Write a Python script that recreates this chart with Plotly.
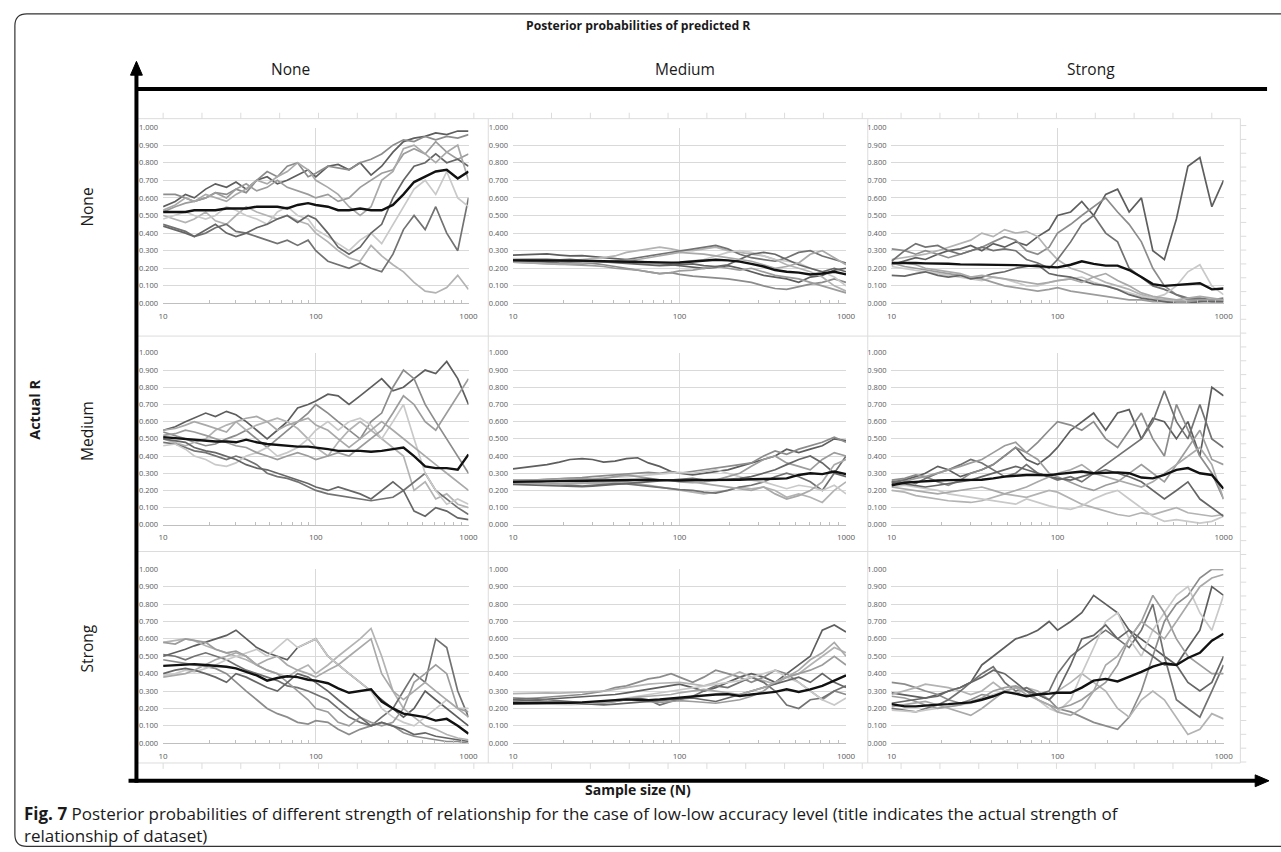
import plotly.graph_objects as go

W, H = 1281, 852

# ---------------- data ----------------
N = [10, 12, 14, 16, 19, 22, 26, 30, 35, 41, 48, 56, 65, 76, 89, 100, 120, 140, 165, 195,
     230, 270, 320, 375, 440, 520, 610, 720, 850, 1000]

row_labels = ["None", "Medium", "Strong"]
col_labels = ["None", "Medium", "Strong"]
x_tick_vals = [10, 100, 1000]
x_minor_vals = [20, 30, 40, 50, 60, 70, 80, 90, 200, 300, 400, 500, 600, 700, 800, 900]
y_tick_vals = [0.0, 0.1, 0.2, 0.3, 0.4, 0.5, 0.6, 0.7, 0.8, 0.9, 1.0]

# Actual R = None
none_none_mean = [0.52, 0.52, 0.52, 0.53, 0.53, 0.53, 0.54, 0.54, 0.54, 0.55,
                  0.55, 0.55, 0.54, 0.56, 0.57, 0.56, 0.55, 0.53, 0.53, 0.54,
                  0.53, 0.53, 0.56, 0.62, 0.69, 0.72, 0.75, 0.76, 0.71, 0.75]
none_none_runs = [
    [0.55, 0.58, 0.62, 0.60, 0.65, 0.68, 0.66, 0.69, 0.65, 0.70, 0.72, 0.68, 0.70, 0.73, 0.76,
     0.72, 0.78, 0.79, 0.76, 0.80, 0.73, 0.78, 0.86, 0.92, 0.94, 0.95, 0.97, 0.96, 0.98, 0.98],
    [0.62, 0.62, 0.60, 0.58, 0.60, 0.63, 0.62, 0.65, 0.63, 0.70, 0.75, 0.72, 0.78, 0.80, 0.72,
     0.74, 0.78, 0.77, 0.76, 0.80, 0.82, 0.85, 0.90, 0.93, 0.92, 0.95, 0.93, 0.95, 0.94, 0.96],
    [0.50, 0.48, 0.46, 0.48, 0.52, 0.47, 0.45, 0.50, 0.55, 0.52, 0.50, 0.48, 0.50, 0.47, 0.45,
     0.40, 0.35, 0.30, 0.26, 0.24, 0.33, 0.27, 0.22, 0.18, 0.12, 0.07, 0.06, 0.09, 0.16, 0.08],
    [0.45, 0.43, 0.41, 0.38, 0.40, 0.43, 0.45, 0.41, 0.40, 0.38, 0.36, 0.34, 0.36, 0.33, 0.36,
     0.30, 0.24, 0.22, 0.20, 0.23, 0.20, 0.18, 0.28, 0.42, 0.50, 0.42, 0.55, 0.40, 0.30, 0.60],
    [0.48, 0.50, 0.52, 0.50, 0.48, 0.50, 0.55, 0.53, 0.50, 0.48, 0.45, 0.52, 0.55, 0.50, 0.48,
     0.42, 0.38, 0.34, 0.30, 0.36, 0.40, 0.34, 0.45, 0.55, 0.65, 0.70, 0.62, 0.75, 0.60, 0.55],
    [0.52, 0.55, 0.57, 0.58, 0.60, 0.63, 0.60, 0.65, 0.68, 0.64, 0.66, 0.70, 0.66, 0.64, 0.62,
     0.60, 0.62, 0.58, 0.60, 0.66, 0.70, 0.74, 0.76, 0.85, 0.88, 0.85, 0.92, 0.86, 0.82, 0.85],
    [0.44, 0.42, 0.40, 0.38, 0.42, 0.45, 0.40, 0.38, 0.40, 0.43, 0.45, 0.48, 0.50, 0.46, 0.50,
     0.48, 0.40, 0.32, 0.28, 0.32, 0.40, 0.45, 0.60, 0.70, 0.78, 0.80, 0.85, 0.80, 0.82, 0.78],
    [0.53, 0.56, 0.60, 0.58, 0.62, 0.60, 0.58, 0.62, 0.65, 0.70, 0.68, 0.72, 0.75, 0.80, 0.76,
     0.70, 0.66, 0.62, 0.55, 0.50, 0.55, 0.70, 0.75, 0.88, 0.90, 0.85, 0.80, 0.86, 0.90, 0.70],
]

none_medium_mean = [0.245, 0.245, 0.245, 0.245, 0.245, 0.244, 0.243, 0.242, 0.240, 0.238,
                    0.237, 0.236, 0.234, 0.232, 0.232, 0.233, 0.238, 0.242, 0.248, 0.245,
                    0.238, 0.225, 0.210, 0.190, 0.180, 0.175, 0.165, 0.170, 0.180, 0.165]
none_medium_runs = [
    [0.275, 0.278, 0.280, 0.282, 0.275, 0.270, 0.272, 0.268, 0.260, 0.255, 0.250, 0.240, 0.235, 0.225, 0.220,
     0.215, 0.210, 0.200, 0.205, 0.215, 0.200, 0.180, 0.160, 0.150, 0.140, 0.120, 0.150, 0.160, 0.190, 0.200],
    [0.250, 0.248, 0.245, 0.240, 0.238, 0.235, 0.230, 0.228, 0.220, 0.210, 0.200, 0.190, 0.180, 0.170, 0.175,
     0.165, 0.155, 0.150, 0.145, 0.140, 0.130, 0.120, 0.100, 0.085, 0.080, 0.095, 0.110, 0.120, 0.140, 0.120],
    [0.240, 0.238, 0.235, 0.238, 0.240, 0.245, 0.250, 0.255, 0.260, 0.270, 0.290, 0.300, 0.310, 0.320, 0.310,
     0.300, 0.300, 0.310, 0.320, 0.300, 0.290, 0.280, 0.270, 0.250, 0.220, 0.200, 0.180, 0.150, 0.100, 0.070],
    [0.245, 0.242, 0.240, 0.235, 0.230, 0.228, 0.225, 0.230, 0.235, 0.240, 0.250, 0.260, 0.270, 0.280, 0.290,
     0.300, 0.310, 0.320, 0.330, 0.310, 0.280, 0.260, 0.250, 0.240, 0.260, 0.290, 0.300, 0.270, 0.250, 0.230],
    [0.255, 0.255, 0.252, 0.250, 0.248, 0.245, 0.242, 0.240, 0.238, 0.235, 0.232, 0.230, 0.228, 0.225, 0.230,
     0.235, 0.240, 0.250, 0.270, 0.290, 0.300, 0.290, 0.270, 0.250, 0.240, 0.230, 0.200, 0.180, 0.150, 0.100],
    [0.235, 0.232, 0.230, 0.228, 0.225, 0.220, 0.218, 0.215, 0.210, 0.200, 0.195, 0.190, 0.180, 0.170, 0.175,
     0.185, 0.190, 0.200, 0.210, 0.200, 0.190, 0.200, 0.180, 0.160, 0.150, 0.140, 0.120, 0.100, 0.080, 0.060],
    [0.248, 0.250, 0.252, 0.250, 0.248, 0.250, 0.245, 0.240, 0.238, 0.232, 0.228, 0.225, 0.220, 0.215, 0.218,
     0.220, 0.225, 0.215, 0.210, 0.220, 0.250, 0.280, 0.290, 0.280, 0.250, 0.220, 0.200, 0.180, 0.200, 0.180],
    [0.235, 0.232, 0.228, 0.225, 0.222, 0.225, 0.228, 0.232, 0.235, 0.240, 0.245, 0.250, 0.260, 0.270, 0.280,
     0.290, 0.285, 0.280, 0.270, 0.260, 0.250, 0.240, 0.220, 0.200, 0.210, 0.230, 0.280, 0.300, 0.260, 0.220],
]

none_strong_mean = [0.230, 0.232, 0.230, 0.228, 0.228, 0.226, 0.222, 0.222, 0.220, 0.220,
                    0.220, 0.218, 0.215, 0.210, 0.205, 0.205, 0.220, 0.240, 0.225, 0.215,
                    0.215, 0.190, 0.150, 0.110, 0.100, 0.105, 0.110, 0.115, 0.080, 0.085]
none_strong_runs = [
    [0.220, 0.240, 0.260, 0.250, 0.280, 0.300, 0.310, 0.330, 0.300, 0.340, 0.320, 0.350, 0.330, 0.380, 0.420,
     0.500, 0.520, 0.580, 0.500, 0.620, 0.650, 0.520, 0.600, 0.300, 0.250, 0.480, 0.780, 0.830, 0.550, 0.700],
    [0.310, 0.300, 0.280, 0.300, 0.280, 0.260, 0.280, 0.300, 0.320, 0.350, 0.380, 0.360, 0.300, 0.280, 0.320,
     0.400, 0.450, 0.500, 0.550, 0.600, 0.520, 0.450, 0.350, 0.200, 0.100, 0.050, 0.020, 0.020, 0.010, 0.010],
    [0.250, 0.260, 0.270, 0.280, 0.300, 0.320, 0.340, 0.360, 0.400, 0.380, 0.420, 0.400, 0.410, 0.380, 0.300,
     0.250, 0.200, 0.180, 0.150, 0.120, 0.100, 0.080, 0.050, 0.030, 0.020, 0.020, 0.010, 0.010, 0.020, 0.020],
    [0.240, 0.300, 0.340, 0.320, 0.330, 0.300, 0.280, 0.300, 0.320, 0.300, 0.310, 0.300, 0.250, 0.230, 0.200,
     0.250, 0.350, 0.450, 0.500, 0.400, 0.350, 0.200, 0.150, 0.100, 0.080, 0.050, 0.030, 0.030, 0.020, 0.030],
    [0.210, 0.200, 0.190, 0.180, 0.170, 0.160, 0.150, 0.140, 0.130, 0.150, 0.140, 0.120, 0.100, 0.100, 0.120,
     0.130, 0.140, 0.150, 0.120, 0.100, 0.080, 0.060, 0.040, 0.030, 0.050, 0.100, 0.180, 0.220, 0.100, 0.050],
    [0.230, 0.210, 0.200, 0.190, 0.180, 0.170, 0.160, 0.150, 0.140, 0.120, 0.100, 0.090, 0.080, 0.070, 0.080,
     0.090, 0.070, 0.060, 0.050, 0.040, 0.030, 0.020, 0.020, 0.010, 0.010, 0.010, 0.010, 0.020, 0.020, 0.020],
    [0.160, 0.155, 0.170, 0.180, 0.160, 0.150, 0.160, 0.140, 0.150, 0.170, 0.180, 0.200, 0.210, 0.220, 0.170,
     0.160, 0.150, 0.130, 0.110, 0.100, 0.080, 0.050, 0.030, 0.020, 0.010, 0.000, 0.000, 0.010, 0.010, 0.010],
    [0.220, 0.230, 0.220, 0.200, 0.190, 0.180, 0.170, 0.150, 0.160, 0.150, 0.140, 0.130, 0.120, 0.110, 0.120,
     0.130, 0.140, 0.120, 0.150, 0.170, 0.130, 0.100, 0.060, 0.040, 0.030, 0.020, 0.030, 0.040, 0.030, 0.020],
]

# Actual R = Medium
medium_none_mean = [0.510, 0.505, 0.500, 0.495, 0.490, 0.485, 0.485, 0.480, 0.495, 0.480,
                    0.470, 0.465, 0.460, 0.455, 0.455, 0.450, 0.440, 0.430, 0.430, 0.430,
                    0.425, 0.430, 0.440, 0.450, 0.400, 0.340, 0.330, 0.330, 0.320, 0.410]
medium_none_runs = [
    [0.550, 0.570, 0.600, 0.620, 0.650, 0.630, 0.660, 0.640, 0.600, 0.550, 0.500, 0.550, 0.600, 0.680, 0.700,
     0.720, 0.760, 0.750, 0.700, 0.750, 0.800, 0.850, 0.780, 0.800, 0.850, 0.900, 0.880, 0.950, 0.850, 0.700],
    [0.540, 0.520, 0.500, 0.480, 0.460, 0.470, 0.500, 0.520, 0.550, 0.500, 0.450, 0.500, 0.550, 0.600, 0.650,
     0.700, 0.650, 0.600, 0.550, 0.500, 0.600, 0.650, 0.800, 0.900, 0.850, 0.700, 0.600, 0.500, 0.400, 0.300],
    [0.500, 0.480, 0.460, 0.480, 0.500, 0.550, 0.580, 0.600, 0.550, 0.580, 0.600, 0.620, 0.600, 0.560, 0.500,
     0.450, 0.400, 0.480, 0.550, 0.600, 0.550, 0.500, 0.450, 0.400, 0.200, 0.250, 0.150, 0.180, 0.120, 0.100],
    [0.480, 0.470, 0.450, 0.430, 0.420, 0.400, 0.380, 0.400, 0.380, 0.350, 0.300, 0.280, 0.270, 0.250, 0.220,
     0.200, 0.180, 0.170, 0.160, 0.150, 0.140, 0.150, 0.160, 0.200, 0.250, 0.300, 0.200, 0.150, 0.100, 0.060],
    [0.460, 0.470, 0.440, 0.400, 0.380, 0.350, 0.340, 0.360, 0.400, 0.420, 0.450, 0.400, 0.420, 0.450, 0.500,
     0.550, 0.600, 0.550, 0.600, 0.620, 0.580, 0.500, 0.600, 0.700, 0.500, 0.300, 0.200, 0.120, 0.150, 0.120],
    [0.520, 0.530, 0.550, 0.540, 0.520, 0.500, 0.480, 0.460, 0.450, 0.420, 0.400, 0.380, 0.400, 0.420, 0.400,
     0.380, 0.400, 0.420, 0.400, 0.450, 0.500, 0.550, 0.650, 0.750, 0.700, 0.600, 0.550, 0.650, 0.750, 0.850],
    [0.500, 0.490, 0.480, 0.450, 0.430, 0.420, 0.400, 0.380, 0.350, 0.330, 0.320, 0.300, 0.280, 0.260, 0.240,
     0.220, 0.200, 0.220, 0.200, 0.180, 0.150, 0.200, 0.250, 0.200, 0.080, 0.050, 0.100, 0.080, 0.040, 0.030],
    [0.550, 0.560, 0.580, 0.600, 0.580, 0.560, 0.540, 0.600, 0.620, 0.630, 0.600, 0.550, 0.580, 0.600, 0.620,
     0.580, 0.550, 0.500, 0.450, 0.500, 0.550, 0.600, 0.550, 0.500, 0.450, 0.400, 0.350, 0.300, 0.250, 0.200],
]

medium_medium_mean = [0.250, 0.250, 0.252, 0.253, 0.254, 0.255, 0.256, 0.258, 0.260, 0.262,
                      0.262, 0.263, 0.262, 0.260, 0.258, 0.258, 0.260, 0.260, 0.262, 0.258,
                      0.262, 0.265, 0.265, 0.268, 0.270, 0.290, 0.300, 0.295, 0.310, 0.295]
medium_medium_runs = [
    [0.325, 0.335, 0.345, 0.350, 0.365, 0.380, 0.385, 0.380, 0.365, 0.370, 0.385, 0.390, 0.360, 0.340, 0.310,
     0.300, 0.290, 0.300, 0.310, 0.320, 0.340, 0.360, 0.380, 0.400, 0.440, 0.420, 0.440, 0.460, 0.500, 0.490],
    [0.260, 0.260, 0.262, 0.265, 0.268, 0.270, 0.275, 0.280, 0.285, 0.290, 0.295, 0.300, 0.305, 0.300, 0.310,
     0.300, 0.310, 0.320, 0.330, 0.340, 0.350, 0.360, 0.400, 0.430, 0.410, 0.440, 0.460, 0.480, 0.510, 0.480],
    [0.250, 0.248, 0.245, 0.240, 0.238, 0.240, 0.242, 0.240, 0.238, 0.245, 0.250, 0.240, 0.230, 0.220, 0.210,
     0.200, 0.190, 0.180, 0.190, 0.200, 0.220, 0.210, 0.220, 0.200, 0.160, 0.180, 0.160, 0.130, 0.200, 0.250],
    [0.240, 0.242, 0.240, 0.238, 0.232, 0.228, 0.225, 0.230, 0.235, 0.240, 0.238, 0.232, 0.225, 0.218, 0.210,
     0.205, 0.200, 0.190, 0.185, 0.200, 0.220, 0.230, 0.250, 0.280, 0.300, 0.280, 0.250, 0.200, 0.300, 0.400],
    [0.245, 0.250, 0.255, 0.258, 0.260, 0.262, 0.265, 0.268, 0.272, 0.275, 0.280, 0.285, 0.290, 0.295, 0.300,
     0.305, 0.300, 0.310, 0.320, 0.300, 0.280, 0.260, 0.250, 0.230, 0.210, 0.230, 0.220, 0.200, 0.230, 0.180],
    [0.255, 0.258, 0.262, 0.265, 0.268, 0.270, 0.268, 0.265, 0.270, 0.280, 0.290, 0.280, 0.270, 0.262, 0.258,
     0.250, 0.245, 0.250, 0.260, 0.280, 0.300, 0.340, 0.380, 0.400, 0.360, 0.340, 0.320, 0.380, 0.420, 0.400],
    [0.235, 0.232, 0.230, 0.228, 0.225, 0.222, 0.222, 0.225, 0.230, 0.235, 0.240, 0.245, 0.250, 0.255, 0.260,
     0.265, 0.270, 0.262, 0.258, 0.265, 0.270, 0.280, 0.300, 0.320, 0.350, 0.380, 0.400, 0.360, 0.300, 0.280],
    [0.245, 0.242, 0.240, 0.238, 0.235, 0.238, 0.240, 0.245, 0.248, 0.250, 0.255, 0.260, 0.262, 0.262, 0.258,
     0.255, 0.250, 0.240, 0.230, 0.220, 0.210, 0.200, 0.220, 0.180, 0.150, 0.170, 0.200, 0.250, 0.350, 0.380],
]

medium_strong_mean = [0.230, 0.245, 0.250, 0.255, 0.258, 0.260, 0.262, 0.262, 0.262, 0.270,
                      0.280, 0.285, 0.290, 0.290, 0.288, 0.295, 0.305, 0.310, 0.300, 0.302,
                      0.305, 0.300, 0.275, 0.270, 0.290, 0.320, 0.330, 0.300, 0.290, 0.210]
medium_strong_runs = [
    [0.240, 0.260, 0.280, 0.300, 0.340, 0.320, 0.280, 0.300, 0.320, 0.350, 0.400, 0.450, 0.380, 0.350, 0.400,
     0.450, 0.550, 0.600, 0.650, 0.550, 0.650, 0.670, 0.500, 0.620, 0.600, 0.500, 0.600, 0.400, 0.800, 0.750],
    [0.260, 0.270, 0.290, 0.280, 0.250, 0.230, 0.260, 0.300, 0.320, 0.350, 0.400, 0.450, 0.420, 0.480, 0.550,
     0.600, 0.580, 0.550, 0.600, 0.500, 0.450, 0.550, 0.650, 0.500, 0.400, 0.700, 0.550, 0.400, 0.300, 0.150],
    [0.200, 0.190, 0.170, 0.160, 0.150, 0.140, 0.135, 0.130, 0.140, 0.160, 0.180, 0.170, 0.160, 0.180, 0.200,
     0.190, 0.150, 0.120, 0.100, 0.080, 0.060, 0.050, 0.070, 0.060, 0.080, 0.100, 0.070, 0.060, 0.050, 0.060],
    [0.250, 0.260, 0.240, 0.270, 0.300, 0.320, 0.350, 0.380, 0.360, 0.320, 0.280, 0.300, 0.350, 0.300, 0.280,
     0.260, 0.280, 0.250, 0.300, 0.350, 0.400, 0.450, 0.500, 0.600, 0.780, 0.600, 0.500, 0.700, 0.500, 0.450],
    [0.220, 0.230, 0.220, 0.210, 0.200, 0.180, 0.170, 0.160, 0.150, 0.140, 0.130, 0.120, 0.150, 0.130, 0.110,
     0.100, 0.090, 0.110, 0.150, 0.180, 0.200, 0.150, 0.100, 0.050, 0.020, 0.030, 0.020, 0.010, 0.020, 0.050],
    [0.230, 0.250, 0.270, 0.280, 0.300, 0.320, 0.340, 0.360, 0.380, 0.420, 0.460, 0.480, 0.420, 0.380, 0.300,
     0.280, 0.250, 0.220, 0.200, 0.230, 0.250, 0.300, 0.350, 0.300, 0.250, 0.350, 0.450, 0.550, 0.380, 0.350],
    [0.250, 0.240, 0.230, 0.220, 0.230, 0.240, 0.250, 0.260, 0.280, 0.300, 0.320, 0.340, 0.320, 0.300, 0.280,
     0.270, 0.260, 0.280, 0.300, 0.320, 0.300, 0.280, 0.250, 0.200, 0.150, 0.200, 0.250, 0.150, 0.100, 0.050],
    [0.220, 0.210, 0.200, 0.190, 0.180, 0.190, 0.200, 0.210, 0.220, 0.200, 0.180, 0.200, 0.220, 0.250, 0.280,
     0.300, 0.320, 0.350, 0.300, 0.280, 0.260, 0.240, 0.220, 0.250, 0.300, 0.350, 0.400, 0.450, 0.350, 0.150],
]

# Actual R = Strong
strong_none_mean = [0.445, 0.450, 0.455, 0.455, 0.450, 0.445, 0.440, 0.430, 0.410, 0.390,
                    0.360, 0.375, 0.385, 0.380, 0.365, 0.360, 0.345, 0.315, 0.290, 0.300,
                    0.310, 0.240, 0.200, 0.170, 0.160, 0.150, 0.130, 0.140, 0.100, 0.055]
strong_none_runs = [
    [0.500, 0.520, 0.540, 0.560, 0.580, 0.600, 0.620, 0.650, 0.600, 0.550, 0.520, 0.500, 0.480, 0.550, 0.580,
     0.600, 0.500, 0.450, 0.400, 0.350, 0.300, 0.250, 0.200, 0.150, 0.200, 0.300, 0.250, 0.200, 0.150, 0.100],
    [0.480, 0.470, 0.460, 0.450, 0.440, 0.430, 0.400, 0.350, 0.300, 0.250, 0.200, 0.170, 0.150, 0.120, 0.110,
     0.130, 0.120, 0.080, 0.050, 0.080, 0.100, 0.120, 0.100, 0.060, 0.040, 0.030, 0.020, 0.010, 0.010, 0.000],
    [0.580, 0.590, 0.600, 0.590, 0.560, 0.540, 0.520, 0.500, 0.480, 0.450, 0.420, 0.400, 0.380, 0.420, 0.450,
     0.400, 0.450, 0.500, 0.550, 0.600, 0.660, 0.500, 0.300, 0.200, 0.150, 0.100, 0.080, 0.050, 0.030, 0.020],
    [0.510, 0.500, 0.480, 0.500, 0.520, 0.500, 0.480, 0.450, 0.420, 0.400, 0.380, 0.360, 0.330, 0.320, 0.300,
     0.280, 0.250, 0.200, 0.150, 0.120, 0.100, 0.150, 0.200, 0.300, 0.400, 0.350, 0.600, 0.550, 0.300, 0.150],
    [0.390, 0.400, 0.420, 0.410, 0.430, 0.450, 0.480, 0.500, 0.520, 0.540, 0.500, 0.550, 0.600, 0.550, 0.580,
     0.600, 0.500, 0.450, 0.400, 0.350, 0.300, 0.200, 0.150, 0.120, 0.100, 0.150, 0.200, 0.250, 0.200, 0.200],
    [0.580, 0.570, 0.600, 0.590, 0.580, 0.540, 0.520, 0.530, 0.500, 0.450, 0.420, 0.400, 0.350, 0.300, 0.250,
     0.200, 0.180, 0.120, 0.100, 0.150, 0.120, 0.100, 0.120, 0.200, 0.350, 0.400, 0.450, 0.400, 0.200, 0.180],
    [0.400, 0.420, 0.430, 0.420, 0.400, 0.380, 0.350, 0.400, 0.380, 0.350, 0.320, 0.300, 0.350, 0.400, 0.380,
     0.350, 0.300, 0.250, 0.200, 0.150, 0.100, 0.120, 0.100, 0.080, 0.050, 0.060, 0.040, 0.030, 0.020, 0.010],
    [0.380, 0.390, 0.400, 0.420, 0.450, 0.480, 0.500, 0.520, 0.500, 0.450, 0.480, 0.500, 0.450, 0.420, 0.400,
     0.380, 0.420, 0.450, 0.500, 0.550, 0.600, 0.400, 0.300, 0.250, 0.300, 0.350, 0.300, 0.250, 0.200, 0.150],
]

strong_medium_mean = [0.230, 0.230, 0.230, 0.230, 0.232, 0.233, 0.235, 0.238, 0.242, 0.248,
                      0.252, 0.250, 0.248, 0.252, 0.258, 0.262, 0.268, 0.275, 0.280, 0.282,
                      0.272, 0.280, 0.290, 0.295, 0.310, 0.295, 0.310, 0.330, 0.360, 0.390]
strong_medium_runs = [
    [0.240, 0.245, 0.250, 0.255, 0.260, 0.262, 0.265, 0.270, 0.275, 0.280, 0.290, 0.300, 0.310, 0.320, 0.330,
     0.340, 0.320, 0.300, 0.320, 0.350, 0.380, 0.400, 0.380, 0.350, 0.400, 0.450, 0.500, 0.650, 0.680, 0.640],
    [0.250, 0.255, 0.260, 0.265, 0.270, 0.275, 0.280, 0.290, 0.300, 0.320, 0.330, 0.350, 0.370, 0.380, 0.400,
     0.380, 0.350, 0.380, 0.420, 0.400, 0.380, 0.350, 0.380, 0.420, 0.400, 0.350, 0.300, 0.250, 0.300, 0.280],
    [0.285, 0.288, 0.290, 0.290, 0.288, 0.290, 0.292, 0.295, 0.300, 0.310, 0.320, 0.330, 0.340, 0.345, 0.350,
     0.350, 0.340, 0.330, 0.350, 0.380, 0.410, 0.380, 0.360, 0.340, 0.380, 0.400, 0.450, 0.500, 0.550, 0.520],
    [0.260, 0.258, 0.255, 0.250, 0.245, 0.240, 0.235, 0.230, 0.235, 0.240, 0.250, 0.260, 0.250, 0.220, 0.240,
     0.250, 0.270, 0.300, 0.330, 0.320, 0.350, 0.380, 0.350, 0.300, 0.220, 0.200, 0.250, 0.260, 0.300, 0.330],
    [0.230, 0.228, 0.225, 0.222, 0.220, 0.222, 0.225, 0.230, 0.240, 0.250, 0.260, 0.270, 0.280, 0.290, 0.300,
     0.310, 0.320, 0.330, 0.340, 0.350, 0.360, 0.380, 0.400, 0.420, 0.380, 0.350, 0.300, 0.250, 0.220, 0.260],
    [0.225, 0.225, 0.228, 0.230, 0.232, 0.230, 0.228, 0.225, 0.230, 0.240, 0.250, 0.245, 0.240, 0.235, 0.240,
     0.245, 0.240, 0.235, 0.230, 0.240, 0.250, 0.270, 0.300, 0.350, 0.380, 0.400, 0.420, 0.450, 0.500, 0.450],
    [0.250, 0.248, 0.245, 0.240, 0.235, 0.230, 0.225, 0.222, 0.220, 0.225, 0.230, 0.235, 0.240, 0.245, 0.250,
     0.255, 0.260, 0.250, 0.240, 0.260, 0.280, 0.300, 0.320, 0.340, 0.360, 0.380, 0.350, 0.400, 0.350, 0.320],
    [0.235, 0.235, 0.238, 0.240, 0.238, 0.235, 0.232, 0.230, 0.235, 0.245, 0.255, 0.265, 0.270, 0.275, 0.280,
     0.290, 0.300, 0.310, 0.300, 0.290, 0.280, 0.300, 0.320, 0.350, 0.380, 0.420, 0.480, 0.520, 0.580, 0.500],
]

strong_strong_mean = [0.225, 0.212, 0.212, 0.218, 0.222, 0.225, 0.230, 0.235, 0.250, 0.270,
                      0.295, 0.285, 0.270, 0.280, 0.285, 0.290, 0.290, 0.320, 0.360, 0.370,
                      0.355, 0.380, 0.410, 0.440, 0.460, 0.450, 0.490, 0.520, 0.590, 0.630]
strong_strong_runs = [
    [0.290, 0.280, 0.270, 0.260, 0.280, 0.300, 0.320, 0.350, 0.450, 0.500, 0.550, 0.600, 0.620, 0.650, 0.700,
     0.650, 0.700, 0.750, 0.850, 0.800, 0.750, 0.650, 0.600, 0.550, 0.500, 0.450, 0.550, 0.650, 0.900, 0.850],
    [0.350, 0.340, 0.320, 0.300, 0.280, 0.250, 0.230, 0.250, 0.280, 0.270, 0.300, 0.320, 0.300, 0.280, 0.250,
     0.200, 0.180, 0.150, 0.120, 0.100, 0.080, 0.150, 0.300, 0.500, 0.700, 0.800, 0.850, 0.950, 1.000, 1.000],
    [0.280, 0.300, 0.320, 0.340, 0.330, 0.320, 0.300, 0.280, 0.300, 0.350, 0.300, 0.280, 0.320, 0.300, 0.250,
     0.300, 0.350, 0.400, 0.350, 0.300, 0.200, 0.150, 0.250, 0.300, 0.250, 0.150, 0.050, 0.080, 0.170, 0.140],
    [0.200, 0.190, 0.180, 0.200, 0.220, 0.250, 0.300, 0.350, 0.400, 0.440, 0.350, 0.300, 0.320, 0.280, 0.300,
     0.400, 0.500, 0.550, 0.600, 0.650, 0.600, 0.550, 0.650, 0.800, 0.500, 0.250, 0.200, 0.150, 0.300, 0.450],
    [0.190, 0.185, 0.180, 0.190, 0.200, 0.210, 0.220, 0.230, 0.250, 0.280, 0.300, 0.320, 0.300, 0.250, 0.200,
     0.180, 0.250, 0.400, 0.550, 0.700, 0.750, 0.600, 0.500, 0.650, 0.750, 0.850, 0.900, 0.750, 0.650, 0.850],
    [0.270, 0.260, 0.240, 0.220, 0.200, 0.210, 0.220, 0.240, 0.260, 0.300, 0.320, 0.330, 0.300, 0.250, 0.220,
     0.200, 0.220, 0.250, 0.300, 0.350, 0.450, 0.600, 0.700, 0.850, 0.750, 0.600, 0.500, 0.450, 0.400, 0.400],
    [0.230, 0.240, 0.250, 0.260, 0.270, 0.300, 0.320, 0.350, 0.380, 0.420, 0.400, 0.350, 0.300, 0.280, 0.250,
     0.300, 0.450, 0.600, 0.620, 0.680, 0.600, 0.650, 0.550, 0.500, 0.450, 0.450, 0.350, 0.300, 0.350, 0.500],
    [0.210, 0.220, 0.230, 0.240, 0.220, 0.200, 0.180, 0.160, 0.200, 0.250, 0.300, 0.320, 0.280, 0.250, 0.220,
     0.180, 0.160, 0.200, 0.300, 0.450, 0.500, 0.600, 0.700, 0.650, 0.600, 0.700, 0.800, 0.900, 0.950, 0.970],
]

panel_runs = [
    [none_none_runs, none_medium_runs, none_strong_runs],
    [medium_none_runs, medium_medium_runs, medium_strong_runs],
    [strong_none_runs, strong_medium_runs, strong_strong_runs],
]
panel_means = [
    [none_none_mean, none_medium_mean, none_strong_mean],
    [medium_none_mean, medium_medium_mean, medium_strong_mean],
    [strong_none_mean, strong_medium_mean, strong_strong_mean],
]

# ---------------- styling / layout ----------------
run_colors = ["#5e5e5e", "#8c8c8c", "#b3b3b3", "#727272", "#c9c9c9", "#9c9c9c", "#666666", "#a9a9a9"]
FONT = "Open Sans"


def px(x):
    return x / W


def py(y):
    return 1 - y / H


# plot-area pixel boxes
col_px = [(160, 469), (514, 851), (897, 1233)]
row_px = [(124, 302), (352, 526), (571, 747)]

fig = go.Figure()
layout = dict(
    width=W, height=H, margin=dict(l=0, r=0, t=0, b=0),
    paper_bgcolor="white", plot_bgcolor="white", showlegend=False,
)

for r in range(3):
    for c in range(3):
        idx = r * 3 + c + 1
        xa = "x" if idx == 1 else f"x{idx}"
        ya = "y" if idx == 1 else f"y{idx}"
        for k, run in enumerate(panel_runs[r][c]):
            fig.add_trace(go.Scatter(
                x=N, y=run, mode="lines", xaxis=xa, yaxis=ya, hoverinfo="skip",
                line=dict(color=run_colors[k % len(run_colors)], width=1.7)))
        fig.add_trace(go.Scatter(
            x=N, y=panel_means[r][c], mode="lines", xaxis=xa, yaxis=ya, hoverinfo="skip",
            line=dict(color="#111111", width=2.4)))
        x0, x1 = col_px[c]
        y0, y1 = row_px[r]
        xkey = "xaxis" if idx == 1 else f"xaxis{idx}"
        ykey = "yaxis" if idx == 1 else f"yaxis{idx}"
        layout[xkey] = dict(
            domain=[px(x0), px(x1)], anchor=ya, type="log", range=[1, 3],
            tickvals=x_tick_vals, ticktext=[str(v) for v in x_tick_vals],
            showgrid=True, gridcolor="#d9d9d9", gridwidth=1,
            showline=True, linecolor="#bfbfbf", linewidth=1, zeroline=False,
            ticks="", ticklabelstandoff=5,
            tickfont=dict(family=FONT, size=8, color="#595959"),
            minor=dict(tickvals=x_minor_vals, ticks="inside", ticklen=3,
                       tickcolor="#bfbfbf", tickwidth=1, showgrid=False),
            fixedrange=True,
        )
        layout[ykey] = dict(
            domain=[py(y1), py(y0)], anchor=xa, range=[0, 1],
            tickvals=y_tick_vals, tickformat=".3f",
            showgrid=True, gridcolor="#d9d9d9", gridwidth=1,
            showline=False, zeroline=False, ticks="", ticklabelstandoff=4,
            tickfont=dict(family=FONT, size=7.5, color="#595959"),
            fixedrange=True,
        )

shapes = []
FRAME = "#dcdcdc"
RIGHT = 1250
# light chart frames
for yy in (115, 335, 553, 767):
    shapes.append(dict(type="line", xref="paper", yref="paper", x0=px(133), x1=px(RIGHT),
                       y0=py(yy), y1=py(yy), line=dict(color=FRAME, width=1)))
for xx in (489, 873, RIGHT):
    shapes.append(dict(type="line", xref="paper", yref="paper", x0=px(xx), x1=px(xx),
                       y0=py(115), y1=py(767), line=dict(color=FRAME, width=1)))
# faint background tick marks (top, bottom, right)
for k in range(28):
    xx = 160 + 39.3 * k
    shapes.append(dict(type="line", xref="paper", yref="paper", x0=px(xx), x1=px(xx),
                       y0=py(109), y1=py(115), line=dict(color=FRAME, width=1)))
    shapes.append(dict(type="line", xref="paper", yref="paper", x0=px(xx), x1=px(xx),
                       y0=py(767), y1=py(773), line=dict(color=FRAME, width=1)))
for k in range(47):
    yy = 122 + 14.0 * k
    shapes.append(dict(type="line", xref="paper", yref="paper", x0=px(RIGHT), x1=px(RIGHT + 6),
                       y0=py(yy), y1=py(yy), line=dict(color=FRAME, width=1)))

# big framing arrows
AX = 133
TOP = 85
BOT = 785
shapes.append(dict(type="line", xref="paper", yref="paper", x0=px(AX), x1=px(AX),
                   y0=py(BOT + 2), y1=py(68), line=dict(color="black", width=4)))
shapes.append(dict(type="path", xref="paper", yref="paper",
                   path=f"M {px(AX - 6)},{py(71)} L {px(AX)},{py(57)} L {px(AX + 6)},{py(71)} Z",
                   fillcolor="black", line=dict(color="black", width=1)))
shapes.append(dict(type="line", xref="paper", yref="paper", x0=px(AX), x1=px(1277),
                   y0=py(TOP), y1=py(TOP), line=dict(color="black", width=4)))
shapes.append(dict(type="line", xref="paper", yref="paper", x0=px(125), x1=px(1267),
                   y0=py(BOT), y1=py(BOT), line=dict(color="black", width=4)))
shapes.append(dict(type="path", xref="paper", yref="paper",
                   path=f"M {px(1265)},{py(BOT - 6)} L {px(1279)},{py(BOT)} L {px(1265)},{py(BOT + 6)} Z",
                   fillcolor="black", line=dict(color="black", width=1)))

# outer rounded border
R = 12
BB = 851.4
shapes.append(dict(type="path", xref="paper", yref="paper",
                   path=(f"M {px(1295)},{py(9)} L {px(10 + R)},{py(9)} "
                         f"Q {px(10)},{py(9)} {px(10)},{py(9 + R)} "
                         f"L {px(10)},{py(BB - R)} Q {px(10)},{py(BB)} {px(10 + R)},{py(BB)} "
                         f"L {px(1295)},{py(BB)}"),
                   line=dict(color="#333333", width=1.2)))
layout["shapes"] = shapes

ann = []


def add_text(text, x, y, size, bold=False, angle=0, xanchor="center", yanchor="middle",
             color="#1a1a1a"):
    ann.append(dict(text=f"<b>{text}</b>" if bold else text, x=px(x), y=py(y),
                    xref="paper", yref="paper", showarrow=False, textangle=angle,
                    xanchor=xanchor, yanchor=yanchor, align="left",
                    font=dict(family=FONT, size=size, color=color)))


add_text("Posterior probabilities of predicted R", 641, 21, 12.2, bold=True)
for c, lab in enumerate(col_labels):
    add_text(lab, [289, 688, 1099][c], 65, 15.5)
for r, lab in enumerate(row_labels):
    add_text(lab, 83, [205, 431, 651][r], 15.5, angle=-90)
add_text("Actual R", 30, 410, 14.5, bold=True, angle=-90)
add_text("Sample size (N)", 641, 794, 14, bold=True)
add_text("<b>Fig. 7</b> Posterior probabilities of different strength of relationship for the case of "
         "low-low accuracy level (title indicates the actual strength of<br>relationship of dataset)",
         17, 804.2, 17, xanchor="left", yanchor="top")
layout["annotations"] = ann

fig.update_layout(**layout)
fig.write_html("out.html", config={"displayModeBar": False},
               post_script="document.body.style.margin='0';document.body.style.overflow='hidden';")
